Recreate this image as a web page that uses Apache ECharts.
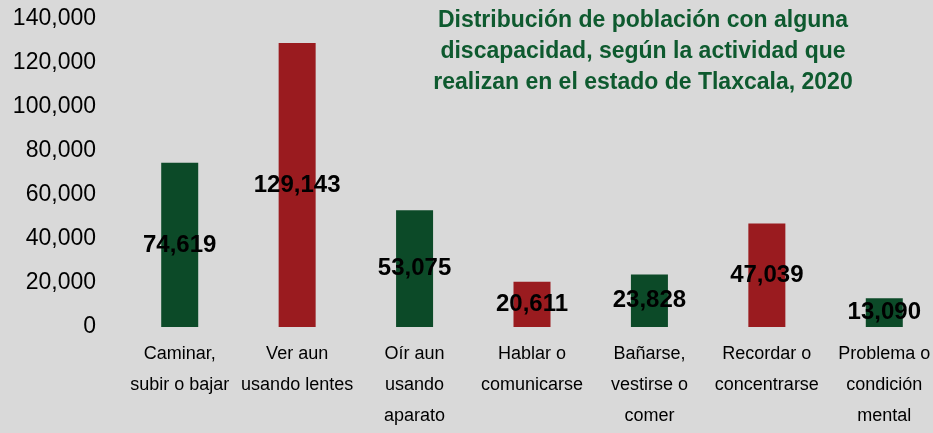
<!DOCTYPE html>
<html>
<head>
<meta charset="utf-8">
<script src="https://cdn.jsdelivr.net/npm/echarts@6/dist/echarts.min.js"></script>
<style>
  html, body { margin: 0; padding: 0; background: #d9d9d9; }
  #chart { width: 933px; height: 433px; }
</style>
</head>
<body>
<div id="chart"></div>
<script>
// Datos
var categorias = [
  'Caminar,\nsubir o bajar',
  'Ver aun\nusando lentes',
  'Oír aun\nusando\naparato',
  'Hablar o\ncomunicarse',
  'Bañarse,\nvestirse o\ncomer',
  'Recordar o\nconcentrarse',
  'Problema o\ncondición\nmental'
];
var poblacion = [74619, 129143, 53075, 20611, 23828, 47039, 13090];
var colores = ['#0c4a28', '#9a1b1f', '#0c4a28', '#9a1b1f', '#0c4a28', '#9a1b1f', '#0c4a28'];

var fmt = function (v) {
  return String(v).replace(/\B(?=(\d{3})+(?!\d))/g, ',');
};

document.addEventListener('DOMContentLoaded', function () {
  var chart = echarts.init(document.getElementById('chart'));

  var option = {
    backgroundColor: '#d9d9d9',
    title: {
      text: 'Distribución de población con alguna\ndiscapacidad, según la actividad que\nrealizan en el estado de Tlaxcala, 2020',
      left: 643,
      top: 5,
      padding: 0,
      textAlign: 'center',
      textStyle: {
        color: '#0e5a2f',
        fontFamily: 'Liberation Sans',
        fontSize: 23,
        fontWeight: 'bold',
        lineHeight: 31
      }
    },
    grid: {
      left: 121,
      right: -10,
      top: 19,
      bottom: 106,
      containLabel: false,
      outerBoundsMode: 'none'
    },
    xAxis: {
      type: 'category',
      data: categorias,
      axisLine: { show: false },
      axisTick: { show: false },
      axisLabel: {
        interval: 0,
        margin: 12,
        color: '#000',
        fontFamily: 'Liberation Sans',
        fontSize: 18,
        lineHeight: 31
      }
    },
    yAxis: {
      type: 'value',
      min: 0,
      max: 140000,
      interval: 20000,
      splitLine: { show: false },
      axisLine: { show: false },
      axisTick: { show: false },
      axisLabel: {
        margin: 25,
        color: '#000',
        fontFamily: 'Liberation Sans',
        fontSize: 23,
        formatter: fmt
      }
    },
    series: [{
      type: 'bar',
      barWidth: 37,
      data: poblacion.map(function (v, i) {
        return { value: v, itemStyle: { color: colores[i] } };
      }),
      label: {
        show: true,
        position: 'inside',
        color: '#000',
        fontFamily: 'Liberation Sans',
        fontSize: 24,
        fontWeight: 'bold',
        formatter: function (p) { return fmt(p.value); }
      }
    }]
  };

  chart.setOption(option);
});
</script>
</body>
</html>
